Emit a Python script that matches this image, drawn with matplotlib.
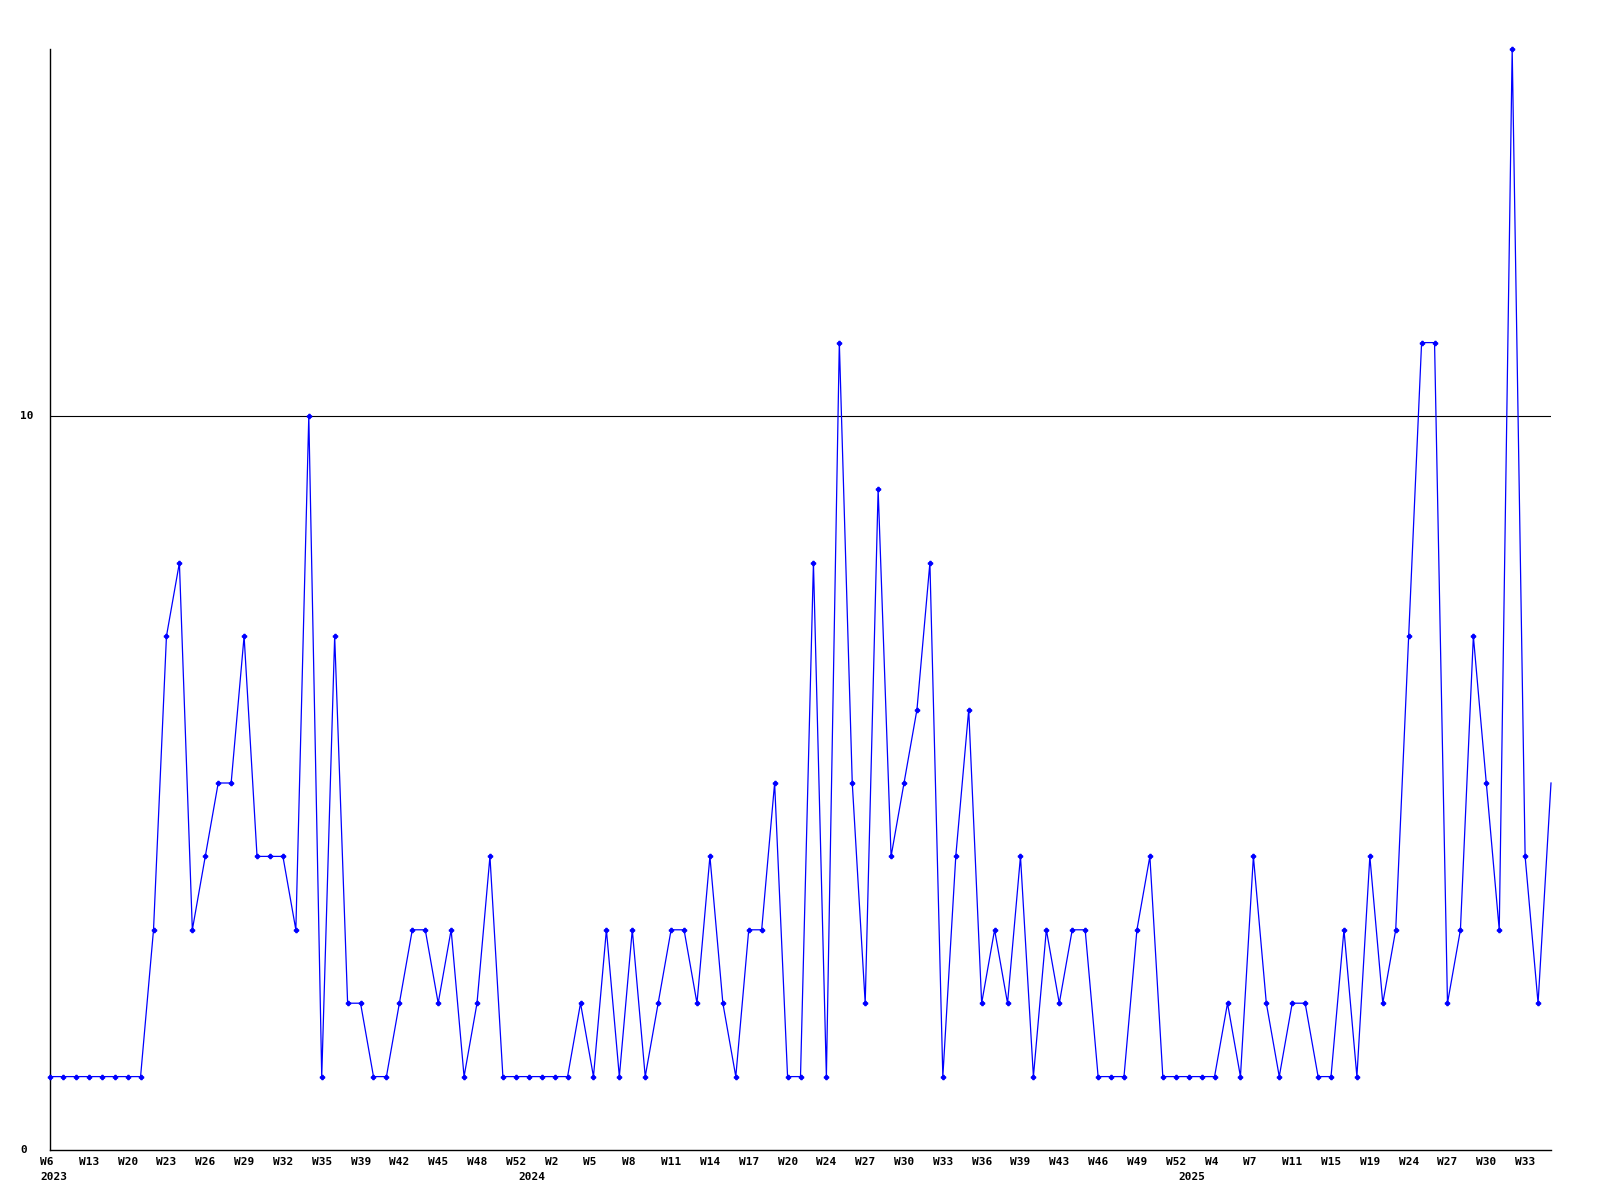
import matplotlib
matplotlib.use('Agg')
import matplotlib.pyplot as plt
import matplotlib.transforms as mtransforms
import numpy as np

# weekly counts, one point per week
values = [1, 1, 1, 1, 1, 1, 1, 1, 3, 7, 8, 3, 4, 5, 5, 7, 4, 4, 4, 3,
          10, 1, 7, 2, 2, 1, 1, 2, 3, 3, 2, 3, 1, 2, 4, 1, 1, 1, 1, 1,
          1, 2, 1, 3, 1, 3, 1, 2, 3, 3, 2, 4, 2, 1, 3, 3, 5, 1, 1, 8,
          1, 11, 5, 2, 9, 4, 5, 6, 8, 1, 4, 6, 2, 3, 2, 4, 1, 3, 2, 3,
          3, 1, 1, 1, 3, 4, 1, 1, 1, 1, 1, 2, 1, 4, 2, 1, 2, 2, 1, 1,
          3, 1, 4, 2, 3, 7, 11, 11, 2, 3, 7, 5, 3, 15, 4, 2, 5]

week_labels = ['W6', 'W13', 'W20', 'W23', 'W26', 'W29', 'W32', 'W35', 'W39',
               'W42', 'W45', 'W48', 'W52', 'W2', 'W5', 'W8', 'W11', 'W14',
               'W17', 'W20', 'W24', 'W27', 'W30', 'W33', 'W36', 'W39', 'W43',
               'W46', 'W49', 'W52', 'W4', 'W7', 'W11', 'W15', 'W19', 'W24',
               'W27', 'W30', 'W33']
week_label_step = 3

years = ['2023', '2024', '2025']
year_pos = [0, 37, 88]

y_ticks = [0, 10]

W, H = 1600, 1200
fig = plt.figure(figsize=(16, 12), dpi=100)
ax = fig.add_axes([50 / W, 1 - 1150 / H, (1551 - 50) / W, (1150 - 49) / H])

x = np.arange(len(values))
ax.plot(x, values, color='#0000ff', lw=0.9, marker='P', ms=3,
        mec='#0000ff', mfc='#0000ff', markevery=list(range(len(values) - 1)),
        clip_on=False, zorder=3)

ax.set_xlim(0, len(values) - 1)
ax.set_ylim(0, 15)
ax.axhline(10, color='black', lw=0.8, zorder=1)

for s in ['top', 'right']:
    ax.spines[s].set_visible(False)
for s in ['left', 'bottom']:
    ax.spines[s].set_color('black')
    ax.spines[s].set_linewidth(1.0)
ax.set_xticks([])
ax.set_yticks([])

font = dict(family='DejaVu Sans Mono', fontweight='bold', fontsize=8, color='black')

trans = mtransforms.blended_transform_factory(ax.transData, fig.transFigure)
trans = mtransforms.offset_copy(trans, fig=fig, x=-10, y=0, units='dots')

for i, lab in enumerate(week_labels):
    ax.text(i * week_label_step, 1 - 1162 / H, lab, transform=trans,
            ha='left', va='center', clip_on=False, **font)

for yr, p in zip(years, year_pos):
    ax.text(p, 1 - 1177 / H, yr, transform=trans,
            ha='left', va='center', clip_on=False, **font)

ytrans = mtransforms.blended_transform_factory(fig.transFigure, ax.transData)
for t in y_ticks:
    ax.text(20 / W, t, str(t), transform=ytrans, ha='left', va='center',
            clip_on=False, **font)

fig.savefig('out.png', dpi=100, facecolor='white')
